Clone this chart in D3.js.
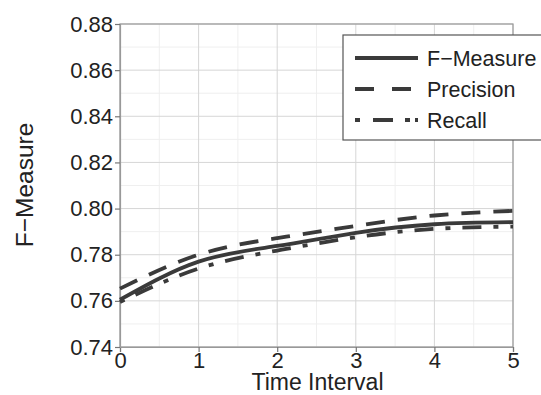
<!DOCTYPE html>
<html lang="en">
<head>
<meta charset="UTF-8">
<title>F-Measure over Time Interval</title>
<style>
    body { margin: 0; background: #fff; }
    text { font-family: "Liberation Sans", Arial, sans-serif; fill: #222; }
</style>
</head>
<body>
<div id="graph"></div>
<script src="https://cdnjs.cloudflare.com/ajax/libs/d3/7.0.0/d3.min.js"></script>
<script>
    // values
    var intervals = [0, 1, 2, 3, 4, 5];
    var fMeasure = [0.7605, 0.7770, 0.7838, 0.7895, 0.7932, 0.7941];
    var precision = [0.7653, 0.7800, 0.7872, 0.7925, 0.7970, 0.7990];
    var recall = [0.7595, 0.7740, 0.7818, 0.7876, 0.7912, 0.7922];
    var xTicks = [0, 1, 2, 3, 4, 5];
    var yTicks = [0.74, 0.76, 0.78, 0.80, 0.82, 0.84, 0.86, 0.88];
    var seriesNames = ["F\u2212Measure", "Precision", "Recall"];

    var margin = { top: 24, right: 28, bottom: 48, left: 120 },
        width = 541 - margin.left - margin.right,
        height = 395 - margin.top - margin.bottom;

    var svg = d3.select("#graph").append("svg")
        .attr("width", 541)
        .attr("height", 395)
        .append("g")
        .attr("transform", "translate(" + margin.left + "," + margin.top + ")");

    var x = d3.scaleLinear().domain([0, 5]).range([0, width]);
    var y = d3.scaleLinear().domain([0.74, 0.88]).range([height, 0]);

    // minor grid
    var minorX = xTicks.slice(0, -1).map(d => d + 0.5);
    var minorY = yTicks.slice(0, -1).map(d => d + 0.01);
    svg.selectAll(".minor-x").data(minorX).enter().append("line")
        .attr("x1", d => x(d)).attr("x2", d => x(d))
        .attr("y1", 0).attr("y2", height)
        .attr("stroke", "#efefef").attr("stroke-width", 1);
    svg.selectAll(".minor-y").data(minorY).enter().append("line")
        .attr("x1", 0).attr("x2", width)
        .attr("y1", d => y(d)).attr("y2", d => y(d))
        .attr("stroke", "#efefef").attr("stroke-width", 1);

    // major grid
    svg.selectAll(".major-x").data(xTicks).enter().append("line")
        .attr("x1", d => x(d)).attr("x2", d => x(d))
        .attr("y1", 0).attr("y2", height)
        .attr("stroke", "#d6d6d6").attr("stroke-width", 1);
    svg.selectAll(".major-y").data(yTicks).enter().append("line")
        .attr("x1", 0).attr("x2", width)
        .attr("y1", d => y(d)).attr("y2", d => y(d))
        .attr("stroke", "#d6d6d6").attr("stroke-width", 1);

    // frame
    svg.append("rect")
        .attr("width", width).attr("height", height)
        .attr("fill", "none").attr("stroke", "#999").attr("stroke-width", 1.2);

    var xAxis = d3.axisBottom(x).tickValues(xTicks).tickFormat(d3.format("d")).tickSize(5).tickPadding(0);
    var yAxis = d3.axisLeft(y).tickValues(yTicks).tickFormat(d3.format(".2f")).tickSize(5).tickPadding(2);

    var gx = svg.append("g")
        .attr("transform", "translate(0," + height + ")")
        .call(xAxis);
    var gy = svg.append("g").call(yAxis);

    [gx, gy].forEach(function (g) {
        g.select(".domain").attr("stroke", "#999").attr("stroke-width", 1.2);
        g.selectAll(".tick line").attr("stroke", "#777").attr("stroke-width", 1.2);
        g.selectAll("text").style("font-size", "22px").attr("fill", "#222")
            .style("font-family", "'Liberation Sans', Arial, sans-serif");
    });

    svg.append("text")
        .attr("x", width / 2 + 1)
        .attr("y", height + 43)
        .attr("text-anchor", "middle")
        .style("font-size", "23px")
        .text("Time Interval");

    svg.append("text")
        .attr("transform", "translate(" + (-87) + "," + (185 - margin.top) + ") rotate(-90)")
        .attr("text-anchor", "middle")
        .style("font-size", "24.5px")
        .text("F\u2212Measure");

    var styles = [
        { values: fMeasure, dash: null },
        { values: precision, dash: "19,13" },
        { values: recall, dash: "5,12,19,12" }
    ];

    var line = d3.line()
        .curve(d3.curveNatural)
        .x((d, i) => x(intervals[i]))
        .y(d => y(d));

    styles.forEach(function (s) {
        svg.append("path")
            .datum(s.values)
            .attr("fill", "none")
            .attr("stroke", "#3a3a3a")
            .attr("stroke-width", 3.8)
            .attr("stroke-dasharray", s.dash)
            .attr("d", line);
    });

    // legend
    var legend = svg.append("g").attr("transform", "translate(" + (343 - margin.left) + "," + (35 - margin.top) + ")");
    legend.append("rect")
        .attr("width", 210).attr("height", 105)
        .attr("fill", "#fff").attr("stroke", "#555").attr("stroke-width", 1.2);

    var legendDash = [null, "19,18,19", "5,13,20,12,5"];
    seriesNames.forEach(function (name, i) {
        var yy = 23 + i * 31;
        legend.append("line")
            .attr("x1", 12).attr("x2", 75)
            .attr("y1", yy).attr("y2", yy)
            .attr("stroke", "#3a3a3a").attr("stroke-width", 3.8)
            .attr("stroke-dasharray", legendDash[i]);
        legend.append("text")
            .attr("x", 84).attr("y", yy + 8)
            .style("font-size", "21.5px")
            .text(name);
    });
</script>
</body>
</html>
